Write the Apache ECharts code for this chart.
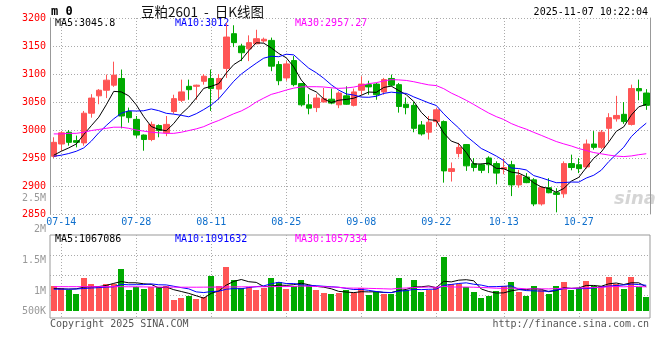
<!DOCTYPE html>
<html><head><meta charset="utf-8">
<script src="https://cdn.jsdelivr.net/npm/echarts@6/dist/echarts.min.js"></script>
<style>html,body{margin:0;padding:0;background:#fff}#c{width:660px;height:360px}</style>
</head><body><div id="c"></div>
<script>
// ---- data ----
const dates = ['07-11','07-14','07-15','07-16','07-17','07-18','07-21','07-22','07-23','07-24','07-25','07-28','07-29','07-30','07-31',
  '08-01','08-04','08-05','08-06','08-07','08-08','08-11','08-12','08-13','08-14','08-15','08-18','08-19','08-20','08-21','08-22','08-25','08-26','08-27','08-28','08-29',
  '09-01','09-02','09-03','09-04','09-05','09-08','09-09','09-10','09-11','09-12','09-15','09-16','09-17','09-18','09-19','09-22','09-23','09-24','09-25','09-26','09-29','09-30',
  '10-09','10-10','10-13','10-14','10-15','10-16','10-17','10-20','10-21','10-22','10-23','10-24','10-27','10-28','10-29','10-30','10-31',
  '11-03','11-04','11-05','11-06','11-07'];
const opens  = [2953,2975,2996,2981,2977,3030,3061,3071,3080,3092,3033,3019,2991,2983,3008,2995,3033,3053,3078,3078,
  3087,3092,3073,3110,3172,3150,3145,3154,3159,3160,3117,3093,3124,3083,3045,3040,3050,3055,3045,3061,
  3044,3071,3081,3082,3068,3092,3081,3046,3044,3009,2996,3015,3015,2926,2958,2974,2940,2938,2950,2940,
  2930,2938,2902,2916,2911,2868,2897,2888,2886,2940,2938,2934,2975,2969,3003,3020,3028,3010,3074,3066];
const closes = [2978,2995,2978,2978,3030,3057,3071,3089,3098,3025,3022,2991,2983,3010,2999,3010,3056,3068,3072,3080,
  3096,3074,3092,3166,3156,3138,3156,3163,3162,3114,3088,3118,3081,3045,3039,3057,3056,3048,3066,3046,
  3068,3082,3077,3063,3090,3080,3042,3040,3003,2993,3014,3036,2927,2931,2969,2936,2933,2928,2938,2923,
  2933,2902,2919,2906,2868,2897,2888,2885,2940,2933,2931,2975,2969,2996,3022,3026,3015,3074,3070,3044];
const highs  = [2987,2998,3000,2990,3034,3064,3073,3099,3122,3108,3040,3025,2992,3015,3010,3025,3063,3090,3090,3081,
  3100,3108,3100,3191,3187,3154,3169,3179,3165,3165,3123,3123,3132,3084,3064,3064,3075,3074,3069,3078,
  3074,3096,3088,3084,3093,3099,3084,3058,3050,3016,3025,3040,3017,2942,2977,2975,2950,2940,2953,2944,
  2949,2945,2929,2923,2914,2900,2914,2896,2944,2956,2950,2983,2998,3000,3030,3061,3050,3081,3090,3073];
const lows   = [2950,2963,2972,2969,2972,3022,3046,3057,3077,3003,3013,2986,2963,2980,2987,2989,3029,3050,3054,3054,
  3081,3034,3054,3093,3148,3123,3123,3153,3156,3105,3080,3088,3078,3042,3028,3032,3050,3046,3039,3045,
  3042,3063,3063,3054,3063,3078,3031,3028,2996,2990,2983,3006,2906,2908,2951,2927,2926,2923,2923,2903,
  2921,2882,2897,2905,2864,2865,2887,2853,2879,2928,2923,2931,2965,2966,2980,3015,3011,3008,3053,3036];
const volumes = [1077000,1050000,1023000,948000,1206000,1114000,1066000,1114000,1114000,1356000,
  1012000,1066000,1034000,1066000,1066000,1088000,851000,889000,915000,872000,
  899000,1238000,1077000,1388000,1174000,1050000,1060000,1023000,1050000,1206000,
  1141000,1034000,1077000,1174000,1077000,1012000,969000,948000,964000,1023000,
  964000,1045000,932000,980000,958000,958000,1206000,1023000,1174000,980000,
  1023000,1066000,1545000,1120000,1120000,1060000,980000,883000,915000,996000,
  1077000,1141000,980000,915000,1077000,1023000,948000,1077000,1141000,1023000,
  1053000,1155000,1075000,1075000,1220000,1120000,1030000,1220000,1070000,900000];
// moving-average values before enough closes exist on screen
const ma5Head  = [2955,2962,2968,2975];
const ma10Head = [2953,2955,2958,2962,2968,2980,2995,3008,3020];
const ma30Head = [2993,2993,2994,2994,2996,2999,3001,3003,3005,3005,3003,3000,2998,2996,2995,2994,2994,2996,2999,3002,
  3006,3012,3017,3023,3029,3034,3041,3050,3057];
const vma5Head  = [1040000,1035000,1030000,1035000];
const vma10Head = [1030000,1030000,1030000,1032000,1040000,1048000,1055000,1062000,1068000];
const vma30Head = [1070000,1070000,1070000,1070000,1070000,1070000,1070000,1070000,1070000,1070000,
  1068000,1068000,1066000,1065000,1064000,1062000,1062000,1061000,1061000,1061000,
  1062000,1063000,1064000,1065000,1066000,1067000,1068000,1068000,1069000];
const dateLabels = ['07-14','07-28','08-11','08-25','09-08','09-22','10-13','10-27'];
const priceTicks = {min: 2850, max: 3200, step: 50};
const volLabelValues = [677419, 1000000, 1500000, 2000000, 2500000];
const volLabelTexts  = ['500K', '1M', '1.5M', '2M', '2.5M'];

// ---- styling / layout constants ----
const RED = '#ff5555', GREEN = '#00aa00', GRIDC = '#aaaaaa', FRAME = '#999999', BLUE = '#0f6fcc';
const MONO = '"DejaVu Sans Mono", monospace';
const VOL_BASE = 677419, VOL_MIN = 564516, VOL_MAX = 1903226;

function movingAverage(values, n, head) {
  return values.map((v, i) => {
    if (i < n - 1) return head[i];
    let s = 0; for (let k = i - n + 1; k <= i; k++) s += values[k];
    return +(s / n).toFixed(2);
  });
}
const isLabel = (i) => dateLabels.indexOf(dates[i]) >= 0;
const candleData = dates.map((d, i) => [opens[i], closes[i], lows[i], highs[i]]);
const dotted = {color: GRIDC, type: [1, 2], width: 1};

const chart = echarts.init(document.getElementById('c'), null, {renderer: 'canvas'});
const lineSeries = (name, data, color, xi, yi) => ({
  name, type: 'line', data, xAxisIndex: xi, yAxisIndex: yi, symbol: 'none', showSymbol: false,
  lineStyle: {width: 1, color}, itemStyle: {color}, z: 5, silent: true
});
const txt = (text, x, y, fill, opts) => Object.assign({
  type: 'text', x, y, silent: true,
  style: Object.assign({text, fill, font: '10px ' + MONO, align: 'left', textAlign: 'left', verticalAlign: 'middle', textVerticalAlign: 'middle'}, (opts || {}))
});

chart.setOption({
  animation: false,
  backgroundColor: '#ffffff',
  grid: [
    {left: 50, right: 10, top: 18, height: 196, containLabel: false, outerBoundsMode: 'none'},
    {left: 50, right: 10, top: 235, height: 83, show: true, borderColor: FRAME, borderWidth: 1, backgroundColor: 'transparent', containLabel: false, outerBoundsMode: 'none'},
    {left: 50, right: 10, top: 235.7, height: 80, containLabel: false, outerBoundsMode: 'none'},
    {left: 50, right: 10, top: 198, height: 113, containLabel: false, outerBoundsMode: 'none'}
  ],
  xAxis: [
    {type: 'category', gridIndex: 0, data: dates, boundaryGap: true,
      axisLine: {show: false}, axisTick: {show: false},
      axisLabel: {interval: (i) => isLabel(i), color: BLUE, fontFamily: MONO, fontSize: 10, margin: 3},
      splitLine: {show: true, interval: (i) => isLabel(i), alignWithLabel: true, lineStyle: dotted}},
    {type: 'category', gridIndex: 1, data: dates, boundaryGap: true,
      axisLine: {show: false}, axisTick: {show: false}, axisLabel: {show: false},
      splitLine: {show: true, interval: (i) => isLabel(i), alignWithLabel: true, lineStyle: dotted}},
    {type: 'value', gridIndex: 2, show: false, min: 0, max: 1},
    {type: 'value', gridIndex: 3, show: false, min: 0, max: 1}
  ],
  yAxis: [
    {type: 'value', gridIndex: 0, min: priceTicks.min, max: priceTicks.max, interval: priceTicks.step,
      axisLine: {show: true, lineStyle: {color: FRAME}}, axisTick: {show: false},
      axisLabel: {color: '#ff0000', fontFamily: MONO, fontSize: 10, margin: 4, padding: [0, 0, 4, 0], formatter: (v) => String(v)},
      splitLine: {show: true, lineStyle: dotted}},
    {type: 'value', gridIndex: 0, position: 'right', min: priceTicks.min, max: priceTicks.max,
      axisLine: {show: true, lineStyle: {color: FRAME}}, axisTick: {show: false}, axisLabel: {show: false}, splitLine: {show: false}},
    {type: 'value', gridIndex: 1, min: VOL_MIN, max: VOL_MAX, show: false, splitLine: {show: false}},
    {type: 'value', gridIndex: 2, min: 0, max: 4, interval: 1,
      axisLine: {show: false}, axisTick: {show: false}, axisLabel: {show: false},
      splitLine: {show: true, showMinLine: false, showMaxLine: false, lineStyle: dotted}},
    {type: 'value', gridIndex: 3, min: VOL_BASE, max: 2500000,
      axisLine: {show: false}, axisTick: {show: false}, splitLine: {show: false},
      axisLabel: {customValues: volLabelValues, showMinLabel: true, showMaxLabel: true,
        color: '#999999', fontFamily: MONO, fontSize: 10, margin: 4,
        formatter: (v) => {
          let best = 0; volLabelValues.forEach((lv, k) => { if (Math.abs(lv - v) < Math.abs(volLabelValues[best] - v)) best = k; });
          return volLabelTexts[best];
        }}}
  ],
  series: [
    {type: 'candlestick', name: 'K', xAxisIndex: 0, yAxisIndex: 0, data: candleData, barWidth: 6,
      itemStyle: {color: RED, color0: GREEN, borderColor: RED, borderColor0: GREEN, borderWidth: 1}, z: 3, silent: true},
    lineSeries('MA5', movingAverage(closes, 5, ma5Head), '#000000', 0, 0),
    lineSeries('MA10', movingAverage(closes, 10, ma10Head), '#0000ff', 0, 0),
    lineSeries('MA30', movingAverage(closes, 30, ma30Head), '#ff00ff', 0, 0),
    {type: 'custom', name: 'VOL', xAxisIndex: 1, yAxisIndex: 2, silent: true, z: 3,
      data: volumes.map((v, i) => [i, v]), encode: {x: 0, y: 1},
      renderItem: (params, api) => {
        const i = api.value(0);
        const top = api.coord([i, api.value(1)]);
        const base = api.coord([i, VOL_BASE]);
        const w = 6;
        return {type: 'rect', shape: {x: Math.round(top[0] - w / 2), y: Math.round(top[1]), width: w, height: Math.round(base[1]) - Math.round(top[1])},
          style: {fill: closes[i] >= opens[i] ? RED : GREEN}};
      }},
    lineSeries('VMA5', movingAverage(volumes, 5, vma5Head), '#000000', 1, 2),
    lineSeries('VMA10', movingAverage(volumes, 10, vma10Head), '#0000ff', 1, 2),
    lineSeries('VMA30', movingAverage(volumes, 30, vma30Head), '#ff00ff', 1, 2)
  ],
  graphic: {elements: [
    txt('sina', 614, 199, 'rgba(150,150,150,0.4)', {font: 'italic bold 18px "DejaVu Sans"'}),
    txt('m 0', 51, 11.5, '#000', {font: 'bold 12px ' + MONO}),
    txt('豆粕2601  -  日K线图', 141, 11.5, '#111', {font: '13.5px "Noto Sans CJK SC"'}),
    txt('2025-11-07 10:22:04', 648, 12.5, '#000', {align: 'right', textAlign: 'right'}),
    txt('MA5:3045.8', 55, 23.5, '#000'),
    txt('MA10:3012', 175, 23.5, '#0000ff'),
    txt('MA30:2957.27', 295, 23.5, '#ff00ff'),
    txt('MA5:1067086', 55, 239, '#000'),
    txt('MA10:1091632', 175, 239, '#0000ff'),
    txt('MA30:1057334', 295, 239, '#ff00ff'),
    txt('Copyright 2025 SINA.COM', 50, 324, '#555'),
    txt('http://finance.sina.com.cn', 649, 324, '#555', {align: 'right', textAlign: 'right'})
  ]}
});
</script>
</body></html>
